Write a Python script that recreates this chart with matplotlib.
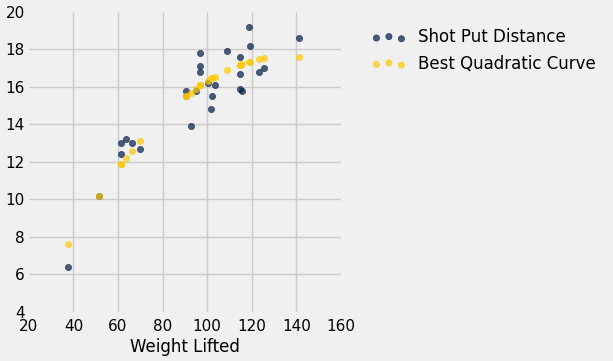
import matplotlib
matplotlib.use("Agg")
import matplotlib.pyplot as plt

plt.style.use("fivethirtyeight")

# shot put data
weight_lifted = [37.5, 51.5, 61.3, 61.3, 63.6, 66.1, 70.0, 92.7, 90.5, 90.5,
                 94.8, 97.0, 97.0, 97.0, 100.6, 101.8, 102.0, 103.6, 108.8, 114.6,
                 114.6, 114.6, 115.5, 118.9, 119.1, 123.3, 125.5, 141.1]
shot_put_distance = [6.4, 10.2, 12.4, 13.0, 13.2, 13.0, 12.7, 13.9, 15.5, 15.8,
                     15.8, 16.8, 17.1, 17.8, 16.2, 14.8, 15.5, 16.1, 17.9, 15.9,
                     16.7, 17.6, 15.8, 19.2, 18.2, 16.8, 17.0, 18.6]
# values of the quadratic curve
best_quadratic = [7.6, 10.2, 11.9, 11.9, 12.2, 12.6, 13.1, 15.7, 15.5, 15.5,
                  15.9, 16.1, 16.1, 16.1, 16.3, 16.45, 16.5, 16.55, 16.9, 17.15,
                  17.15, 17.15, 17.2, 17.35, 17.35, 17.5, 17.55, 17.6]

x_ticks = [20, 40, 60, 80, 100, 120, 140, 160]
y_ticks = [4, 6, 8, 10, 12, 14, 16, 18, 20]

fig = plt.figure(figsize=(6.13, 3.61), dpi=100, facecolor="#f0f0f0")
ax = fig.add_axes([0.047, 0.136, 0.509, 0.831], facecolor="#f0f0f0")

ax.scatter(weight_lifted, shot_put_distance, s=20, color="#001a44", alpha=0.7,
           label="Shot Put Distance", zorder=3)
ax.scatter(weight_lifted, best_quadratic, s=20, color="#ffc800", alpha=0.7,
           label="Best Quadratic Curve", zorder=3)

ax.set_xlim(20, 160)
ax.set_ylim(4, 20)
ax.set_xticks(x_ticks)
ax.set_yticks(y_ticks)
ax.tick_params(labelsize=11, length=0)
ax.tick_params(axis="x", pad=5)
ax.tick_params(axis="y", pad=3)
ax.grid(True, color="#cbcbcb", linewidth=1)
# no grid lines on the edges
for axis in (ax.xaxis, ax.yaxis):
    lines = axis.get_gridlines()
    lines[0].set_visible(False)
    lines[-1].set_visible(False)
for s in ax.spines.values():
    s.set_visible(False)
ax.set_xlabel("Weight Lifted", fontsize=12, labelpad=3)

ax.legend(loc="upper left", bbox_to_anchor=(1.05, 0.995), frameon=False,
          fontsize=12, scatterpoints=3, handlelength=2.1, handletextpad=0.7,
          labelspacing=0.5)

fig.savefig("out.png", dpi=100, facecolor="#f0f0f0")
